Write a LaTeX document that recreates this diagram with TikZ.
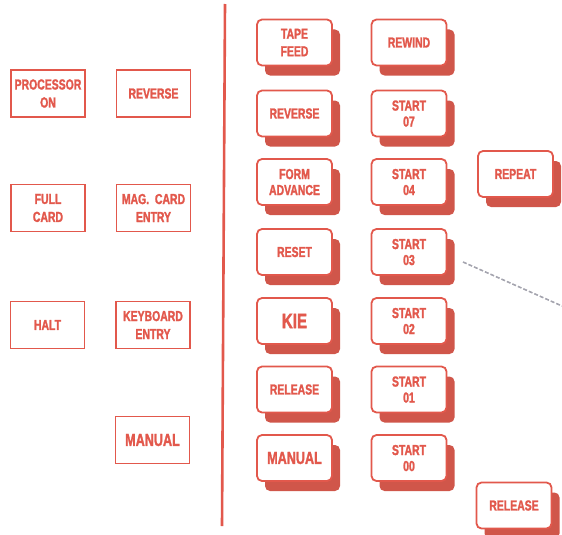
\documentclass[tikz,border=0pt]{standalone}
\usepackage{xcolor}
\usepackage{fontspec}
\usepackage{tikz}
\usetikzlibrary{shadows}
\newfontfamily\keyfont[FakeStretch=0.72, FakeBold=1.6]{Liberation Sans Bold}
\definecolor{keyred}{RGB}{226, 88, 76}
\definecolor{keyshade}{RGB}{208, 86, 74}
\definecolor{tapegray}{RGB}{165, 165, 175}

\begin{document}
\begin{tikzpicture}[x=1pt, y=-1pt,
    lamp/.style={draw=keyred, line width=1.3pt, text=keyred, minimum width=74pt, minimum height=47pt,
        inner sep=0pt, align=center, font=\keyfont\fontsize{14.5}{18}\selectfont},
    key/.style={draw=keyred, line width=1.8pt, fill=white, text=keyred, rounded corners=5pt,
        minimum width=75pt, minimum height=46pt, inner sep=0pt, align=center,
        font=\keyfont\fontsize{14.5}{17.5}\selectfont,
        drop shadow={shadow xshift=8pt, shadow yshift=-10pt, fill=keyshade, opacity=1}},
    startkey/.style={key, font=\keyfont\fontsize{14.5}{16}\selectfont, text depth=0pt},
    bigkey/.style={key, font=\keyfont\fontsize{17.5}{20}\selectfont},
    tape/.style={draw=tapegray, line width=1.6pt, dash pattern=on 4pt off 2pt}]
    \useasboundingbox (0,0) rectangle (562,535);

    % indicator lamps
    \node[lamp] (procon) at (48,93.5) {PROCESSOR\\ON};
    \node[lamp] (lrev) at (153.5,93.5) {REVERSE};
    \node[lamp] (fcard) at (48,208) {FULL\\CARD};
    \node[lamp] (mcard) at (153.5,208) {MAG.~ CARD\\ENTRY};
    \node[lamp] (halt) at (47.5,325) {HALT};
    \node[lamp] (kbent) at (153,325) {KEYBOARD\\ENTRY};
    \node[lamp, font=\keyfont\fontsize{17.5}{20}\selectfont] (lman) at (152.5,440) {MANUAL};

    % divider
    \coordinate (divtop) at (225,4);
    \coordinate (divbot) at (222,526);
    \draw[keyred, line width=2.6pt] (divtop) -- (divbot);

    % keys
    \node[key] (tfeed) at (294.5,42.5) {TAPE\\FEED};
    \node[key] (rewind) at (409,42.5) {REWIND};
    \node[key] (krev) at (294.5,113.5) {REVERSE};
    \node[startkey] (s07) at (409,113.5) {START\\07};
    \node[startkey] (fadv) at (294.5,182) {FORM\\ADVANCE};
    \node[startkey] (s04) at (409,182) {START\\04};
    \node[key] (repeat) at (515.5,174) {REPEAT};
    \node[key] (reset) at (294.5,252) {RESET};
    \node[startkey] (s03) at (409,252) {START\\03};
    \node[bigkey, font=\keyfont\fontsize{21}{22}\selectfont] (kie) at (294.5,321) {KIE};
    \node[startkey] (s02) at (409,321) {START\\02};
    \node[key] (krel) at (294.5,389.5) {RELEASE};
    \node[startkey] (s01) at (409,389.5) {START\\01};
    \node[bigkey] (kman) at (294.5,458) {MANUAL};
    \node[startkey] (s00) at (409,458) {START\\00};
    \node[key] (rrel) at (514,505.5) {RELEASE};

    % break line
    \coordinate (cuta) at (463,262);
    \coordinate (cutb) at (562,306);
    \draw[tape] (cuta) -- (cutb);
\end{tikzpicture}
\end{document}
